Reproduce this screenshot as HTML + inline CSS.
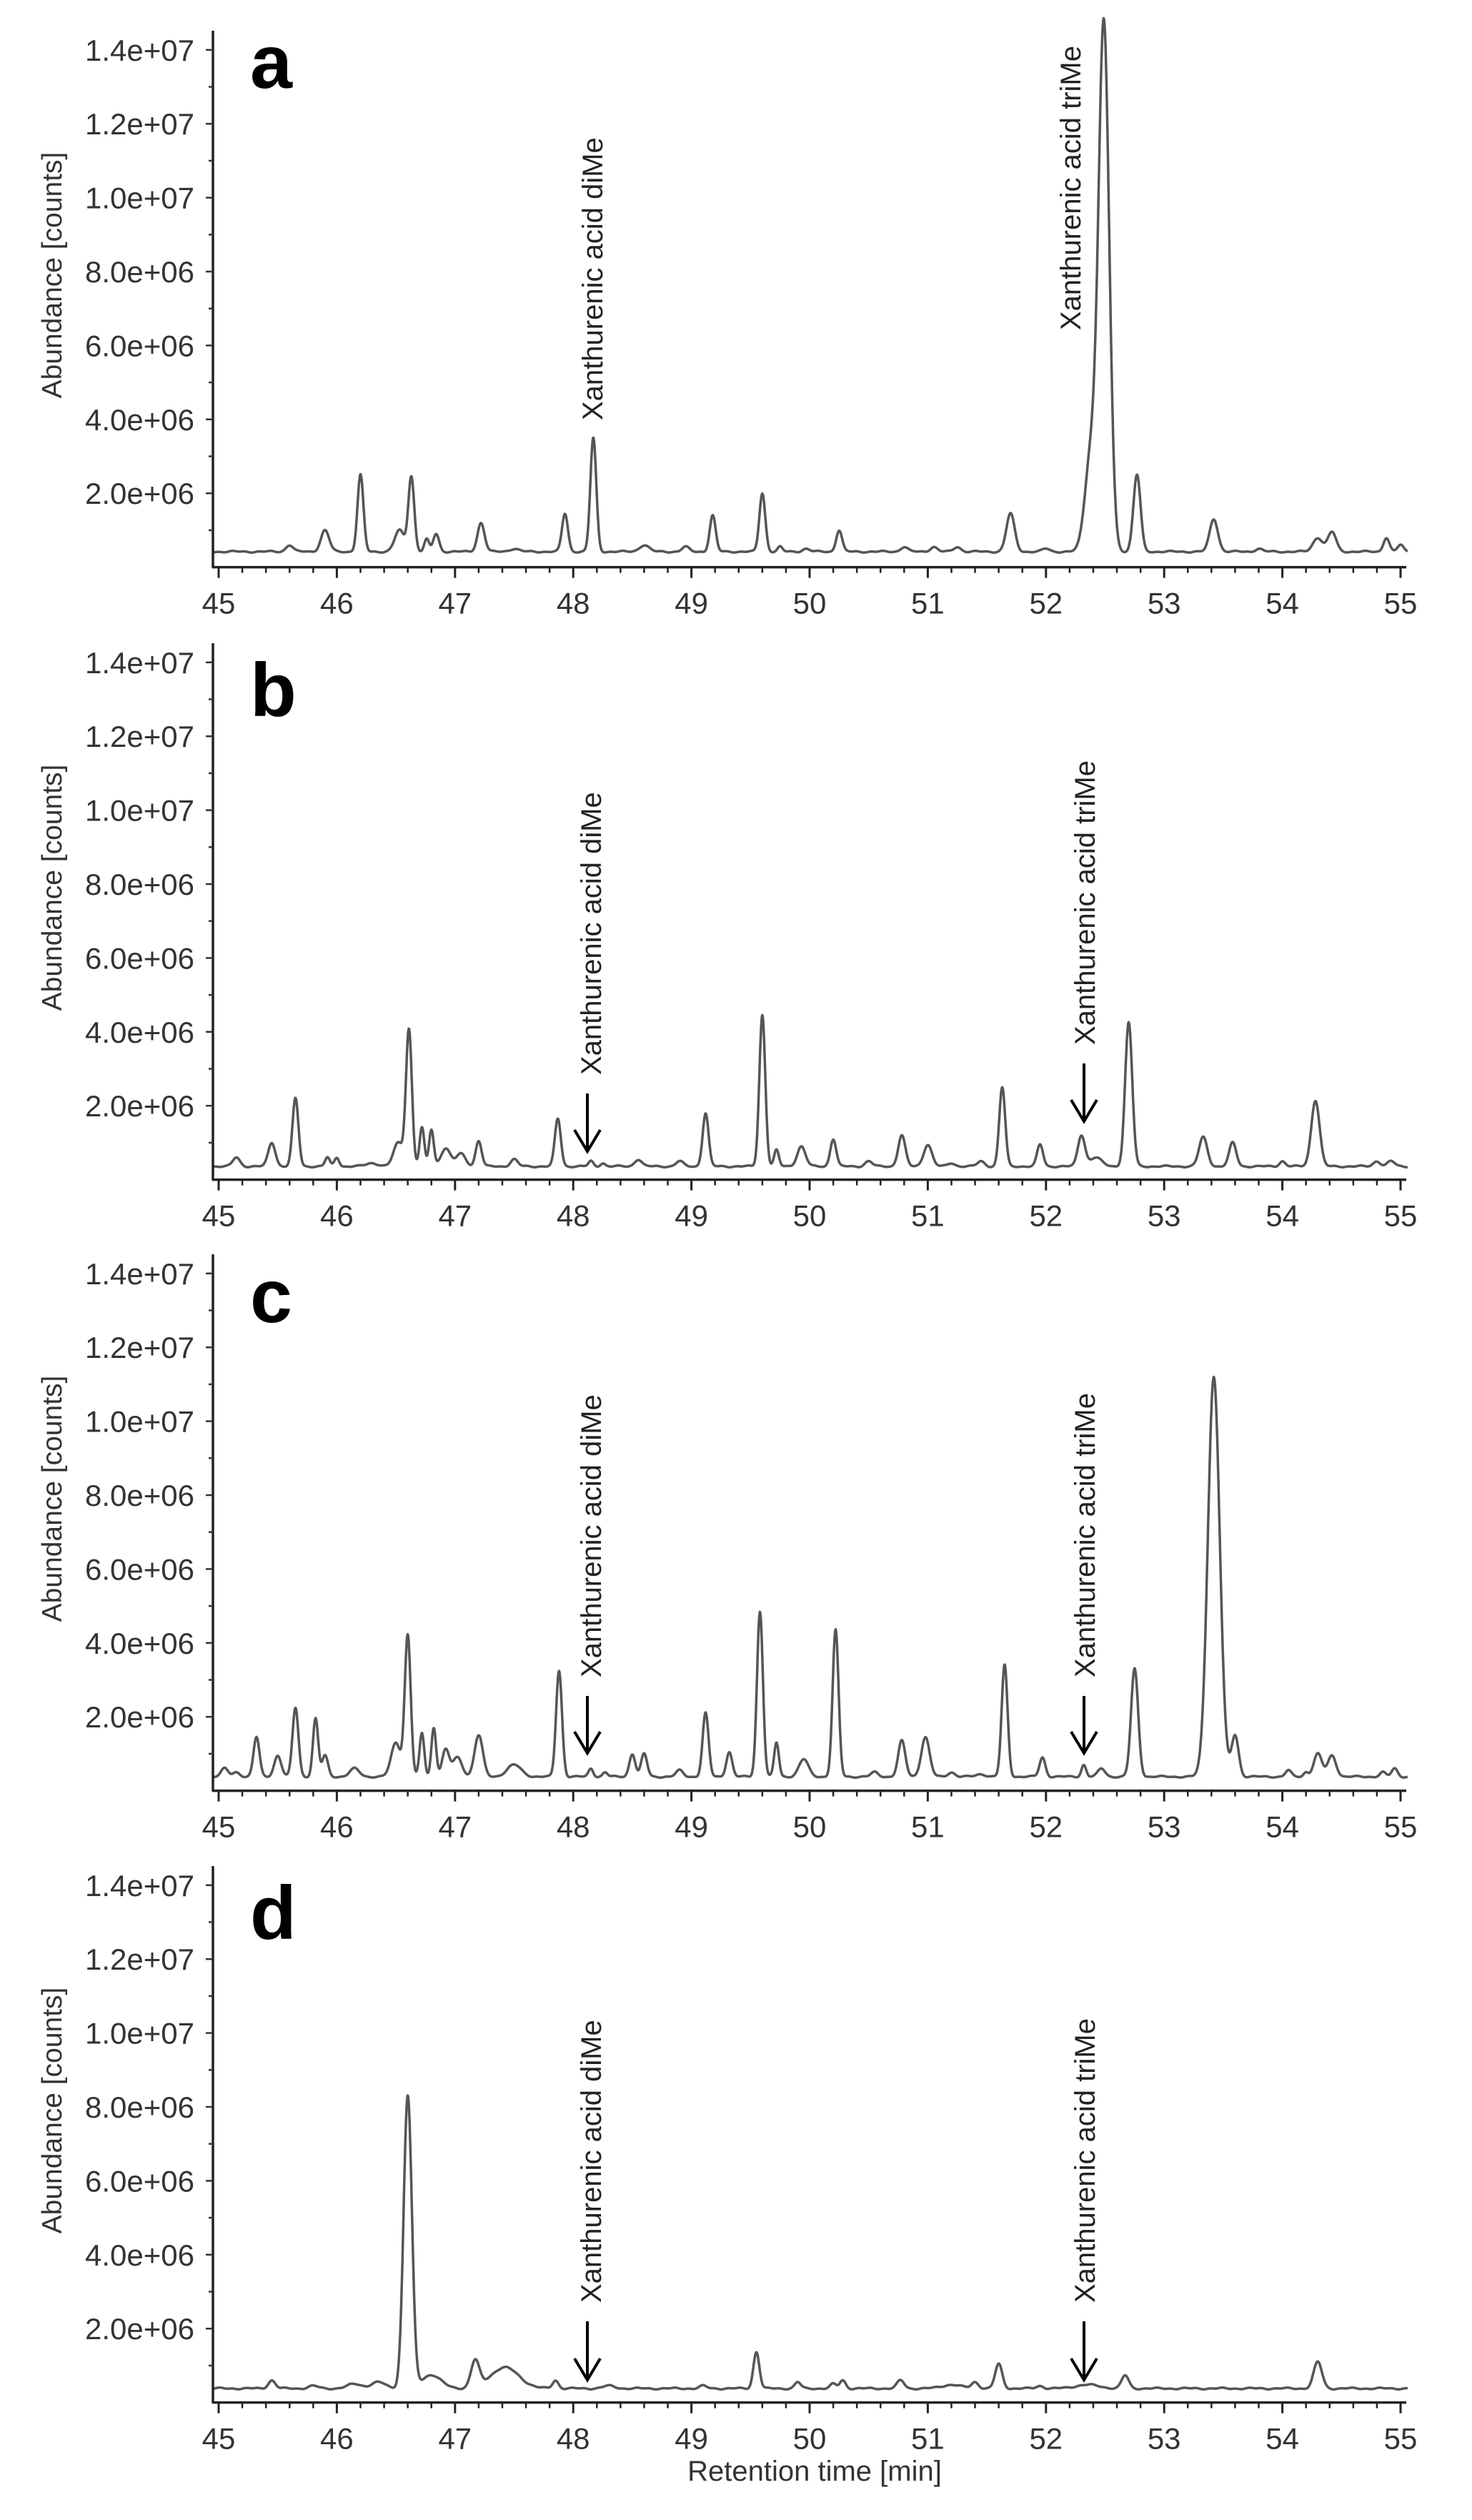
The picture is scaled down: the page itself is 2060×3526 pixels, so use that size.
<!DOCTYPE html>
<html><head><meta charset="utf-8"><style>
html,body{margin:0;padding:0;background:#fff;}
svg{display:block;}
text{font-family:"Liberation Sans",Arial,sans-serif;}
</style></head><body>
<svg id="s" width="2060" height="3526" viewBox="0 0 2060 3526" xmlns="http://www.w3.org/2000/svg">
<rect width="2060" height="3526" fill="#fff"/>
<g id="g"></g>
<text x="1140" y="3471" font-size="40" fill="#333" text-anchor="middle">Retention time [min]</text>
</svg>
<script>
var NS="http://www.w3.org/2000/svg",G=document.getElementById("g");
function el(n,a,t){var e=document.createElementNS(NS,n);for(var k in a)e.setAttribute(k,a[k]);if(t!=null)e.textContent=t;G.appendChild(e);return e;}
var X0=306,PX=165.4;function X(t){return X0+(t-45)*PX;}
var panels=[
{top:70,letter:"a",ly:123,base:0.42,
 peaks:[[45.6,0.6,.03],[45.9,1.0,.035],[46.2,2.5,.025],[46.53,1.0,.04],[46.63,2.45,.025],[46.76,0.75,.02],[46.84,0.9,.025],[47.22,1.2,.03],[47.5,0.5,.04],[47.93,1.45,.025],[48.17,3.5,.025],[48.6,0.6,.04],[48.95,0.55,.03],[49.18,1.4,.025],[49.6,2.0,.025],[49.75,0.55,.02],[49.97,0.5,.03],[50.25,1.0,.025],[50.8,0.55,.03],[51.05,0.55,.03],[51.25,0.55,.03],[51.7,1.45,.035],[52.0,0.5,.03],[52.38,3.0,.05],[52.49,14.6,.045],[52.77,2.5,.03],[53.42,1.3,.035],[53.8,0.5,.03],[54.3,0.8,.04],[54.42,0.95,.035],[54.88,0.8,.025],[55.0,0.6,.025]],
 di:{x:829,bot:588},tri:{x:1498,bot:462}},
{top:927,letter:"b",ly:1002,base:0.36,
 peaks:[[45.15,0.6,.03],[45.45,1.0,.03],[45.65,2.2,.025],[45.92,0.6,.02],[46.0,0.6,.02],[46.3,0.45,.05],[46.52,1.0,.04],[46.61,4.05,.025],[46.72,1.4,.02],[46.8,1.35,.02],[46.92,0.85,.04],[47.05,0.7,.04],[47.2,1.05,.025],[47.5,0.55,.03],[47.87,1.65,.025],[48.15,0.5,.02],[48.25,0.45,.02],[48.55,0.55,.03],[48.9,0.5,.03],[49.12,1.8,.025],[49.6,4.46,.025],[49.72,0.8,.02],[49.93,0.9,.035],[50.2,1.1,.025],[50.5,0.5,.03],[50.78,1.2,.03],[51.0,0.95,.035],[51.2,0.45,.03],[51.45,0.5,.03],[51.63,2.5,.025],[51.95,0.95,.025],[52.3,1.2,.03],[52.42,0.6,.05],[52.7,4.25,.03],[53.33,1.15,.035],[53.58,1.0,.03],[54.0,0.5,.025],[54.28,2.15,.035],[54.8,0.5,.03],[54.92,0.5,.03]],
 di:{x:827,bot:1504,a1:1530,a2:1611,ax:822},tri:{x:1518,bot:1462,a1:1488,a2:1569,ax:1517}},
{top:1782,letter:"c",ly:1850,base:0.38,
 peaks:[[45.05,0.6,.03],[45.15,0.5,.03],[45.32,1.45,.025],[45.5,0.95,.03],[45.65,2.25,.025],[45.82,1.95,.022],[45.9,0.95,.025],[46.15,0.6,.04],[46.5,1.3,.04],[46.6,4.2,.025],[46.72,1.55,.02],[46.82,1.7,.02],[46.92,1.1,.03],[47.02,0.9,.04],[47.2,1.5,.035],[47.5,0.7,.06],[47.88,3.25,.025],[48.15,0.6,.02],[48.27,0.5,.02],[48.5,1.0,.025],[48.6,1.0,.025],[48.9,0.55,.03],[49.12,2.1,.025],[49.32,1.05,.025],[49.58,4.85,.025],[49.72,1.3,.02],[49.95,0.85,.04],[50.22,4.35,.025],[50.55,0.5,.03],[50.78,1.35,.03],[50.98,1.45,.035],[51.2,0.5,.03],[51.45,0.45,.04],[51.65,3.4,.025],[51.97,0.9,.025],[52.32,0.7,.02],[52.47,0.6,.03],[52.75,3.3,.03],[53.42,11.2,.05],[53.6,1.5,.03],[54.05,0.55,.025],[54.2,0.5,.02],[54.3,1.0,.035],[54.42,0.95,.035],[54.85,0.5,.025],[54.95,0.6,.025]],
 di:{x:827,bot:2347,a1:2373,a2:2453,ax:822},tri:{x:1518,bot:2347,a1:2373,a2:2453,ax:1517}},
{top:2638,letter:"d",ly:2713,base:0.38,
 peaks:[[45.45,0.6,.03],[45.8,0.45,.04],[46.15,0.5,.06],[46.35,0.55,.06],[46.6,8.3,.035],[46.8,0.75,.08],[47.17,1.1,.035],[47.42,0.95,.12],[47.85,0.6,.025],[48.3,0.45,.05],[49.1,0.45,.03],[49.55,1.37,.025],[49.9,0.55,.025],[50.2,0.5,.025],[50.28,0.6,.025],[50.77,0.6,.03],[51.2,0.48,.08],[51.4,0.55,.03],[51.6,1.04,.03],[51.95,0.45,.03],[52.35,0.48,.1],[52.67,0.73,.03],[54.3,1.1,.035]],
 di:{x:827,bot:3222,a1:3248,a2:3330,ax:822},tri:{x:1518,bot:3222,a1:3248,a2:3330,ax:1517}}
];
var labs=["2.0e+06","4.0e+06","6.0e+06","8.0e+06","1.0e+07","1.2e+07","1.4e+07"];
panels.forEach(function(p,i){
 var top=p.top,zero=top+723.6,S=51.7;
 function Y(v){return zero-v*S;}
 var d="";
 for(var t=44.96;t<=55.06;t+=0.004){
  var v=p.base+0.015*Math.sin(t*23+i)+0.01*Math.sin(t*57+2*i);
  p.peaks.forEach(function(k){var a=k[1]-p.base;if(a<0)a=0.05;v+=a*Math.exp(-Math.pow(t-k[0],2)/(2*k[2]*k[2]));});
  d+=(d?"L":"M")+X(t).toFixed(1)+" "+Y(v).toFixed(1);
 }
 el("path",{d:d,fill:"none",stroke:"#555","stroke-width":3.5,"stroke-linejoin":"round"});
 el("line",{x1:298,y1:top-27,x2:298,y2:zero+1,stroke:"#222","stroke-width":3.5});
 el("line",{x1:297,y1:zero,x2:1968,y2:zero,stroke:"#222","stroke-width":3.5});
 for(var m=1;m<=14;m++){var y=Y(m);var L=(m%2==0)?10:6;el("line",{x1:298-L,y1:y,x2:298,y2:y,stroke:"#333","stroke-width":2.5});}
 labs.forEach(function(s,j){el("text",{x:272,y:Y(2*(j+1))+15,"font-size":42,fill:"#333","text-anchor":"end"},s);});
 for(var q=0;q<=50;q++){var t=45+q*0.2,x=X(t),L=(q%5==0)?15:8;el("line",{x1:x,y1:zero,x2:x,y2:zero+L,stroke:"#222","stroke-width":q%5==0?3:2.5});
  if(q%5==0)el("text",{x:x,y:zero+65,"font-size":42,fill:"#333","text-anchor":"middle"},String(45+q/5));}
 el("text",{transform:"translate(86,"+(top+315)+") rotate(-90)","font-size":39,fill:"#333","text-anchor":"middle"},"Abundance [counts]");
 el("text",{x:350,y:p.ly,"font-size":106,"font-weight":"bold",fill:"#000"},p.letter);
 [["di","Xanthurenic acid diMe"],["tri","Xanthurenic acid triMe"]].forEach(function(z){
  var o=p[z[0]];
  el("text",{transform:"translate("+(o.x+14)+","+o.bot+") rotate(-90)","font-size":40,fill:"#222"},z[1]);
  if(o.a1){el("line",{x1:o.ax,y1:o.a1,x2:o.ax,y2:o.a2,stroke:"#000","stroke-width":4});
   el("path",{d:"M"+(o.ax-18)+" "+(o.a2-30)+"L"+o.ax+" "+o.a2+"L"+(o.ax+18)+" "+(o.a2-30),fill:"none",stroke:"#000","stroke-width":4});}
 });
});
</script>
</body></html>
